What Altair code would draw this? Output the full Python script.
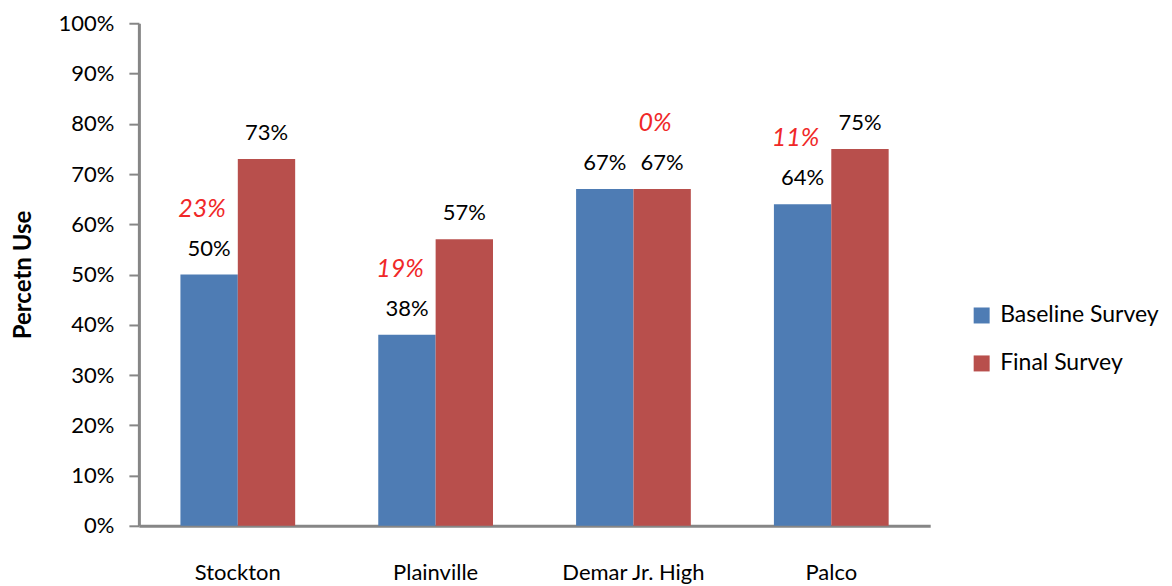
import altair as alt
import pandas as pd

categories = ["Stockton", "Plainville", "Demar Jr. High", "Palco"]
series = ["Baseline Survey", "Final Survey"]
baseline = [50, 38, 67, 64]
final = [73, 57, 67, 75]
change = [23, 19, 0, 11]
change_over = ["Baseline Survey", "Baseline Survey", "Final Survey", "Baseline Survey"]
colors = ["#4E7CB4", "#B84F4C"]

rows = []
for c, b, f in zip(categories, baseline, final):
    rows.append({"category": c, "series": series[0], "value": b})
    rows.append({"category": c, "series": series[1], "value": f})
df = pd.DataFrame(rows)

chg = pd.DataFrame({
    "category": categories,
    "series": change_over,
    "value": [b if s == series[0] else f for b, f, s in zip(baseline, final, change_over)],
    "label": [f"{v}%" for v in change],
})

FONT = "Lato"

x = alt.X("category:N", sort=categories, title=None,
          scale=alt.Scale(paddingInner=0.42, paddingOuter=0.21),
          axis=alt.Axis(labelAngle=0, labelFontSize=22, labelFont=FONT, labelColor="#000",
                        ticks=False, domainColor="#868686", domainWidth=3, labelPadding=37))
y = alt.Y("value:Q", title="Percetn Use",
          scale=alt.Scale(domain=[0, 100], nice=False),
          axis=alt.Axis(values=list(range(0, 101, 10)), labelExpr="datum.value + '%'",
                        grid=False, labelFontSize=22, labelFont=FONT, labelColor="#000",
                        tickSize=10, tickColor="#868686", tickWidth=2,
                        domainColor="#868686", domainWidth=3, labelPadding=15,
                        titleFontSize=24, titleFont=FONT, titleFontWeight="bold",
                        titleColor="#000", titlePadding=23))
xo = alt.XOffset("series:N", sort=series)

bars = alt.Chart(df).mark_bar().encode(
    x=x, y=y, xOffset=xo,
    color=alt.Color("series:N", sort=series, title=None,
                    scale=alt.Scale(domain=series, range=colors),
                    legend=alt.Legend(orient="none", legendX=832, legendY=281,
                                      symbolType="square", symbolSize=256,
                                      symbolStrokeWidth=0,
                                      labelFontSize=23, labelFont=FONT, labelColor="#000",
                                      rowPadding=24, labelOffset=7)),
)

labels = alt.Chart(df).mark_text(dy=-26, fontSize=22, font=FONT, color="#000",
                                 baseline="middle").transform_calculate(
    txt="datum.value + '%'"
).encode(
    x=alt.X("category:N", sort=categories), y="value:Q", xOffset=xo, text="txt:N",
)

changes = alt.Chart(chg).mark_text(dy=-66, dx=-7, fontSize=25, font=FONT, fontStyle="italic",
                                   color="#F02828", baseline="middle").encode(
    x=alt.X("category:N", sort=categories), y="value:Q", xOffset=xo, text="label:N",
)

chart = alt.layer(bars, labels, changes).properties(
    width=792, height=503, background="white",
    padding={"left": 3, "top": 4, "right": 5, "bottom": 5}
).configure_view(strokeWidth=0, stroke="transparent")

chart.save("out.html", embed_options={"renderer": "svg", "actions": False})
